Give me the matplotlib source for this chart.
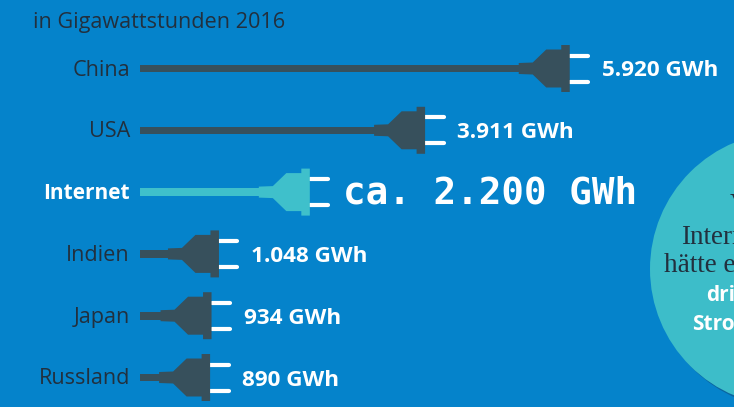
import matplotlib
matplotlib.use("Agg")
import matplotlib.pyplot as plt
from matplotlib.patches import Polygon, Circle, Rectangle
from matplotlib.transforms import Affine2D

categories = ["China", "USA", "Internet", "Indien", "Japan", "Russland"]
value_labels = ["5.920 GWh", "3.911 GWh", "ca. 2.200 GWh", "1.048 GWh", "934 GWh", "890 GWh"]
# cord lengths as drawn in the picture, in GWh (the Internet plug is drawn a bit longer than its label)
drawn_gwh = [5920, 3911, 2310, 1048, 945, 925]
title = "in Gigawattstunden 2016"
callout_dark = [("V", 730, 203), ("Intern", 681, 234), ("hätte e", 664, 262)]
callout_light = [("dri", 706, 293), ("Stro", 692, 322)]

BG = "#0583cb"
DARK = "#37505c"
TEAL = "#3fc0cb"
INK = "#22303e"
W, H = 734, 407
PX_PER_GWH = 0.072
ZERO_PX = 143.5
ROW0, ROW_STEP = 68.5, 61.8

fig = plt.figure(figsize=(W / 100, H / 100), dpi=100, facecolor=BG)
ax = fig.add_axes([0, 0, 1, 1], facecolor=BG)
ax.set_xlim(-ZERO_PX / PX_PER_GWH, (W - ZERO_PX) / PX_PER_GWH)
ax.set_ylim((H - ROW0) / ROW_STEP, -ROW0 / ROW_STEP)
ax.axis("off")

def px(x, y):
    return ax.transData.inverted().transform((x, H - y))

plug = [(-51, -5.5), (-37, -6), (-23.5, -19), (-8.5, -19), (-8.5, -23.5), (0, -23.5),
        (0, 23.5), (-8.5, 23.5), (-8.5, 19), (-23.5, 19), (-37, 6), (-51, 5.5)]

for i, (cat, val, lab) in enumerate(zip(categories, drawn_gwh, value_labels)):
    inet = cat == "Internet"
    col = TEAL if inet else DARK
    x0, y0 = ax.transData.transform((val, i))
    here = Affine2D().translate(x0, y0)
    start = ax.transData.transform(px(140, 0))[0]
    ax.add_patch(Rectangle((start - x0, -3.8), x0 - start - 40, 7.6, transform=here, fc=col, ec="none"))
    ax.add_patch(Polygon(plug, closed=True, transform=here, fc=col, ec="none", zorder=3))
    for off in (-13, 13):
        ax.plot([0, 18.5], [off, off], transform=here, color="white", lw=3.0,
                solid_capstyle="round", zorder=2)
    lab_t = Affine2D().translate(px(130, 0)[0] * 0 + 130, y0 + 1)
    ax.text(0, 0, cat, transform=lab_t, ha="right", va="center_baseline",
            family="Open Sans", fontsize=15 if inet else 15.6,
            fontweight="bold" if inet else "normal", color="white" if inet else INK)
    if inet:
        t = Affine2D().translate(x0 + 33, y0 + 3)
        ax.text(0, 0, lab, transform=t, ha="left", va="center_baseline",
                family="DejaVu Sans Mono", fontweight="bold", fontsize=27, color="white")
    else:
        t = Affine2D().translate(x0 + 32, y0)
        ax.text(0, 0, lab, transform=t, ha="left", va="center_baseline",
                family="Open Sans", fontweight="bold", fontsize=16.2, color="white")

ax.text(*px(33, 20), title, ha="left", va="center_baseline", family="Open Sans",
        fontsize=15.6, color=INK)

fig_tr = Affine2D().scale(1, -1).translate(0, H)
ax.add_patch(Circle((790, 272), 137, transform=fig_tr, fc="#0a659f", ec="none", zorder=4, clip_on=False))
ax.add_patch(Circle((787, 269), 137, transform=fig_tr, fc="#3dbdc9", ec="none", zorder=5, clip_on=False))
for s, x, y in callout_dark:
    ax.text(x, y, s, transform=fig_tr, ha="left", va="center_baseline",
            family="Liberation Serif", fontsize=19.5, color=INK, zorder=6)
for s, x, y in callout_light:
    ax.text(x, y, s, transform=fig_tr, ha="left", va="center_baseline",
            family="Open Sans", fontweight="bold", fontsize=15, color="white", zorder=6)

fig.savefig("out.png", dpi=100, facecolor=BG)
